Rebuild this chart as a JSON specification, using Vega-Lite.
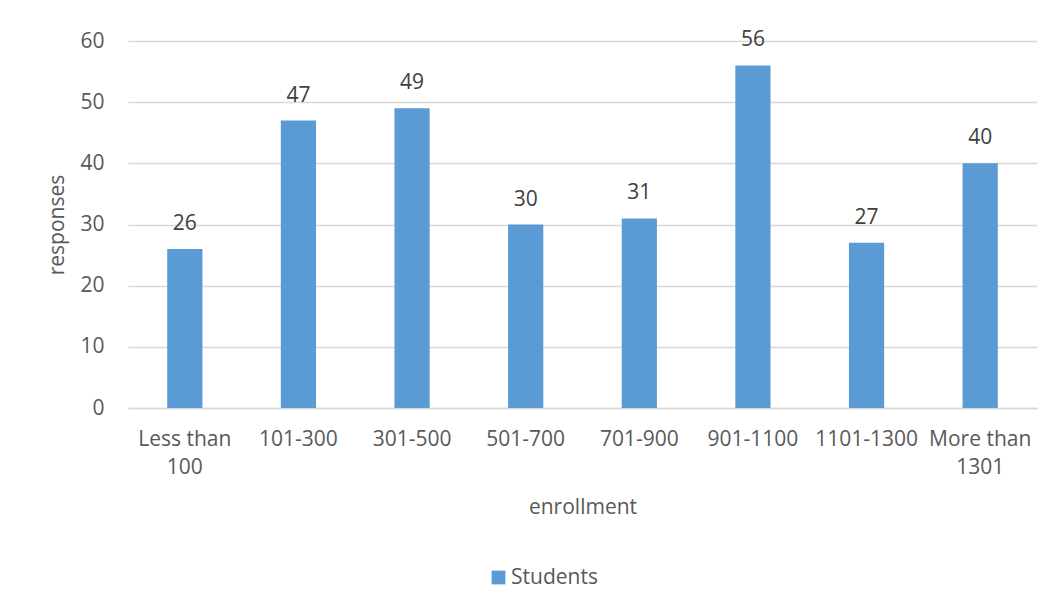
{
  "$schema": "https://vega.github.io/schema/vega-lite/v6.json",
  "width": 909,
  "height": 367,
  "autosize": {"type": "none"},
  "padding": {"left": 128, "top": 41, "right": 17, "bottom": 204},
  "background": "white",
  "data": {
    "values": [
      {"enrollment": "Less than 100", "responses": 26, "series": "Students"},
      {"enrollment": "101-300", "responses": 47, "series": "Students"},
      {"enrollment": "301-500", "responses": 49, "series": "Students"},
      {"enrollment": "501-700", "responses": 30, "series": "Students"},
      {"enrollment": "701-900", "responses": 31, "series": "Students"},
      {"enrollment": "901-1100", "responses": 56, "series": "Students"},
      {"enrollment": "1101-1300", "responses": 27, "series": "Students"},
      {"enrollment": "More than 1301", "responses": 40, "series": "Students"}
    ]
  },
  "encoding": {
    "x": {
      "field": "enrollment",
      "type": "nominal",
      "sort": null,
      "scale": {"paddingInner": 0.69, "paddingOuter": 0.345},
      "axis": {
        "title": "enrollment",
        "labelAngle": 0,
        "labelExpr": "indexof(datum.label, 'than') > 0 ? [substring(datum.label, 0, indexof(datum.label, 'than') + 4), substring(datum.label, indexof(datum.label, 'than') + 5)] : datum.label",
        "labelLineHeight": 28,
        "labelPadding": 20,
        "titlePadding": 19,
        "ticks": false,
        "domainColor": "#d9d9d9",
        "domainWidth": 1.5
      }
    },
    "y": {
      "field": "responses",
      "type": "quantitative",
      "scale": {"domain": [0, 60]},
      "axis": {
        "title": "responses",
        "values": [0, 10, 20, 30, 40, 50, 60],
        "domain": false,
        "ticks": false,
        "labelPadding": 24,
        "titlePadding": 12,
        "gridColor": "#d9d9d9",
        "gridWidth": 1.3
      }
    }
  },
  "layer": [
    {
      "mark": {"type": "bar", "color": "#5b9bd5"},
      "encoding": {
        "color": {
          "field": "series",
          "type": "nominal",
          "scale": {"range": ["#5b9bd5"]},
          "legend": {
            "title": null,
            "orient": "none",
            "legendX": 360,
            "legendY": 526,
            "symbolType": "square",
            "symbolSize": 190,
            "symbolStrokeWidth": 0,
            "labelOffset": 2
          }
        }
      }
    },
    {
      "mark": {"type": "text", "baseline": "bottom", "dy": -15, "font": "Open Sans", "fontSize": 21, "color": "#404040"},
      "encoding": {"text": {"field": "responses", "type": "quantitative"}}
    }
  ],
  "config": {
    "view": {"stroke": null},
    "font": "Open Sans",
    "axis": {
      "labelFont": "Open Sans",
      "labelFontSize": 21,
      "labelColor": "#595959",
      "titleFont": "Open Sans",
      "titleFontSize": 21,
      "titleFontWeight": "normal",
      "titleColor": "#595959"
    },
    "legend": {
      "labelFont": "Open Sans",
      "labelFontSize": 21,
      "labelColor": "#595959"
    }
  }
}
